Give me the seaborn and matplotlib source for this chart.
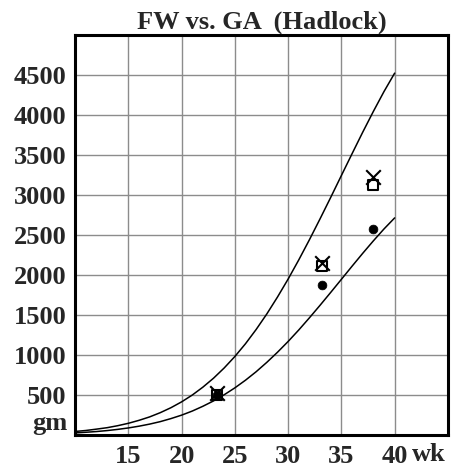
import matplotlib
matplotlib.use("Agg")
import matplotlib.pyplot as plt
import seaborn as sns
import pandas as pd

# Hadlock fetal weight percentiles (gm) by gestational age (wk)
ga_weeks = list(range(10, 41))
p10 = [26, 34, 43, 55, 70, 88, 110, 136, 167, 205, 248, 299, 359, 426, 503,
       589, 685, 791, 908, 1034, 1169, 1313, 1465, 1622, 1783, 1946, 2110,
       2271, 2427, 2576, 2714]
p90 = [44, 56, 73, 91, 116, 146, 183, 226, 279, 341, 414, 499, 598, 710, 838,
       981, 1141, 1319, 1513, 1724, 1949, 2189, 2441, 2703, 2971, 3244, 3516,
       3785, 4045, 4294, 4524]

# Fetal weight estimates at three exams
exam_ga = [23.3, 33.2, 38.0]
fw_cross = [520, 2150, 3225]
fw_square = [505, 2110, 3130]
fw_dot = [500, 1875, 2580]

x_ticks = [15, 20, 25, 30, 35, 40]
y_ticks = [500, 1000, 1500, 2000, 2500, 3000, 3500, 4000, 4500]

FS = 19

sns.set_style("white")
plt.rcParams["font.family"] = ["Liberation Serif", "DejaVu Serif"]
plt.rcParams["font.weight"] = "bold"

fig = plt.figure(figsize=(4.58, 4.74), dpi=100)
ax = fig.add_axes([0.1638, 0.0823, 0.978 - 0.1638, 0.926 - 0.0823])

curves = pd.DataFrame({"ga": ga_weeks, "p10": p10, "p90": p90})
sns.lineplot(data=curves, x="ga", y="p90", ax=ax, color="black", lw=1.1)
sns.lineplot(data=curves, x="ga", y="p10", ax=ax, color="black", lw=1.1)

exams = pd.DataFrame({"ga": exam_ga, "cross": fw_cross,
                      "square": fw_square, "dot": fw_dot})
sns.scatterplot(data=exams, x="ga", y="dot", ax=ax, color="black",
                marker="o", s=40, edgecolor="black", zorder=5)
sns.scatterplot(data=exams, x="ga", y="square", ax=ax, marker="s", s=50,
                facecolor="none", edgecolor="black", linewidth=1.5, zorder=6)
sns.scatterplot(data=exams, x="ga", y="cross", ax=ax, marker="x", s=110,
                color="black", linewidth=1.5, zorder=7)

ax.set_xlim(10, 45)
ax.set_ylim(0, 5000)
ax.set_xticks(x_ticks)
ax.set_yticks(y_ticks)
ax.set_xticklabels([str(t) for t in x_ticks])
ax.set_yticklabels([str(t) for t in y_ticks])
ax.grid(True, color="#8c8c8c", lw=1.0)
ax.set_axisbelow(True)
ax.tick_params(axis="both", length=0, labelsize=FS)
ax.tick_params(axis="x", pad=7)
ax.tick_params(axis="y", pad=6)
for lab in ax.get_xticklabels() + ax.get_yticklabels():
    lab.set_fontweight("bold")
for sp in ax.spines.values():
    sp.set_visible(True)
    sp.set_color("black")
    sp.set_linewidth(2.2)

ax.set_xlabel("")
ax.set_ylabel("")
ax.text(-0.02, 0.0, "gm", transform=ax.transAxes, ha="right", va="bottom",
        fontsize=FS, fontweight="bold")
ax.text(41.6, -245, "wk", ha="left", va="center", fontsize=FS,
        fontweight="bold", clip_on=False)
ax.set_title("FW vs. GA  (Hadlock)", fontsize=FS, fontweight="bold", pad=5)

fig.savefig("out.png", dpi=100)
